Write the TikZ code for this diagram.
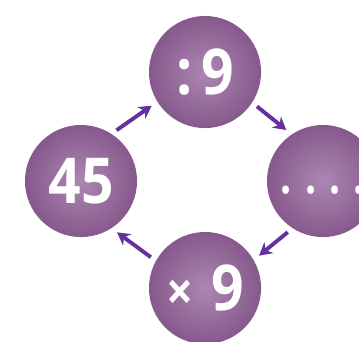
\documentclass[tikz,border=0pt]{standalone}
\usepackage{fontspec}
\setmainfont[FakeStretch=0.9]{Open Sans}
\usetikzlibrary{arrows.meta}
\definecolor{ballpurple}{HTML}{86598C}
\definecolor{balllight}{HTML}{AC87B2}
\definecolor{arrowviolet}{HTML}{6530A0}
\begin{document}
\begin{tikzpicture}[x=0.01cm, y=-0.01cm,
  ball/.style={circle, minimum size=1.12cm, inner sep=0pt, shading=radial,
    inner color=balllight, outer color=ballpurple, text=white,
    font=\fontsize{18}{18}\selectfont\bfseries, text height=13pt, text depth=0pt},
  flow/.style={-{Stealth[length=3.6pt,width=4pt]}, line width=1.1pt,
    arrowviolet, shorten <=1.6pt, shorten >=1.8pt}]
  \useasboundingbox (0,0) rectangle (359,341);
  \fill[white] (0,0) rectangle (359,341);
  \clip (0,0) rectangle (359,341);
  \node[ball] (div9) at (205,72) {:\hspace{2.5pt}9};
  \node[ball] (start) at (81,181) {45};
  \node[ball] (result) at (323,181) {\raisebox{3pt}{\mdseries .\hspace{2.6pt}.\hspace{2.6pt}.\hspace{2.6pt}.}};
  \node[ball] (mul9) at (205,288) {{\fontsize{15}{15}\selectfont×}\hspace{5pt}9};
  \draw[flow] (start.57) -- (div9.212);
  \draw[flow] (div9.327) -- (result.124);
  \draw[flow] (result.237) -- (mul9.30);
  \draw[flow] (mul9.151) -- (start.303);
\end{tikzpicture}
\end{document}
